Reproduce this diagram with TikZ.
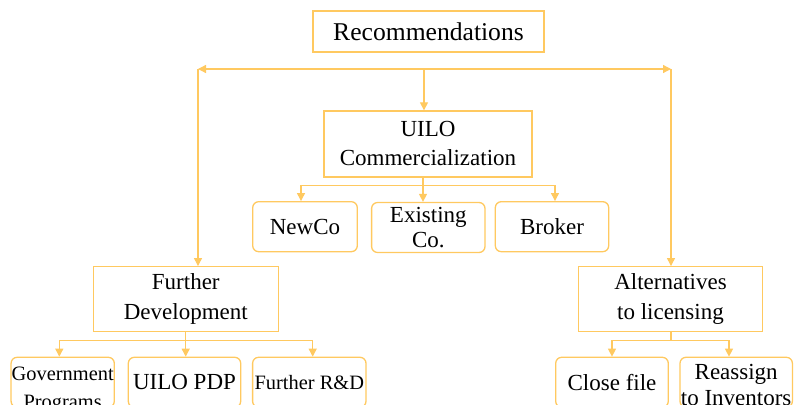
\documentclass[tikz,border=0pt]{standalone}
\usepackage{fontspec}
\setmainfont{Liberation Serif}
\usepackage{tikz}
\usetikzlibrary{arrows.meta,calc}
\definecolor{boxorange}{RGB}{255,201,96}
\tikzset{
         box/.style={draw=boxorange,line width=.65pt,align=center,inner sep=0pt,
                     font=\fontsize{11.5}{14.5}\selectfont},
         leaf/.style={box,rounded corners=3pt,minimum height=25pt},
         lbl/.style={align=center,inner sep=0pt},
         arr/.style={draw=boxorange,line width=.65pt,-{Triangle[length=4pt,width=4pt]}},
         lin/.style={draw=boxorange,line width=.65pt}
        }
\begin{document}
\begin{tikzpicture}[x=.5pt,y=-.5pt]
      \clip(0,0)rectangle(794,405); %frame of the picture
      \node[box,minimum width=115.5pt,minimum height=20.5pt,font=\fontsize{12.8}{15}\selectfont] (rec) at (428.5,31.5){Recommendations};
      \node[box,minimum width=104pt,minimum height=33pt] (uilo) at (428,144){UILO\\Commercialization};
      \node[leaf,minimum width=52.3pt] (newco) at (305,226.7){NewCo};
      \node[leaf,minimum width=56.7pt,font=\fontsize{11.5}{12.5}\selectfont] (exist) at (428.3,227.5){Existing\\Co.};
      \node[leaf,minimum width=56.7pt] (broker) at (552,226.7){Broker};
      \node[box,minimum width=92.5pt,minimum height=32.5pt,font=\fontsize{11.5}{15}\selectfont] (fdev) at (185.8,299.2){Further\\Development};
      \node[box,minimum width=92.2pt,minimum height=32.5pt,font=\fontsize{11.5}{15}\selectfont] (alt) at (670.5,299.2){Alternatives\\to licensing};
      %bottom row, texts run past the lower edge
      \node[leaf,minimum width=51.6pt,label={[lbl,yshift=-4pt,font=\fontsize{10.2}{14}\selectfont]center:Government\\Programs}] (gov) at (62.7,382.3){};
      \node[leaf,minimum width=56.2pt] (pdp) at (184.5,382.3){UILO PDP};
      \node[leaf,minimum width=56.7pt,font=\fontsize{10.2}{12.5}\selectfont] (frd) at (309.3,382.3){Further R\&D};
      \node[leaf,minimum width=56.3pt] (close) at (612,382.3){Close file};
      \node[leaf,minimum width=56.2pt,label={[lbl,yshift=-1.5pt,font=\fontsize{11.5}{13}\selectfont]center:Reassign\\to Inventors}] (reassign) at (736.2,382.3){};
      %top bus
      \coordinate (busc) at (424,69);
      \coordinate (busl) at (198,69);
      \coordinate (busr) at (671,69);
      \draw[arr](busc)--(busl);
      \draw[arr](busc)--(busr);
      \draw[arr](busc)--(busc |- uilo.north);
      \draw[arr](busl)--(busl |- fdev.north);
      \draw[arr](busr)--(busr |- alt.north);
      %UILO branches
      \coordinate (uj) at (423,185.7);
      \draw[lin](uj |- uilo.south)--(uj);
      \draw[arr](uj)-|([xshift=-2pt]newco.north);
      \draw[arr](uj)--(uj |- exist.north);
      \draw[arr](uj)-|([xshift=1.5pt]broker.north);
      %further development branches
      \coordinate (fj) at (185.7,340.3);
      \draw[lin](fj |- fdev.south)--(fj);
      \draw[arr](fj)-|([xshift=-1.7pt]gov.north);
      \draw[arr](fj)--(fj |- pdp.north);
      \draw[arr](fj)-|([xshift=1.7pt]frd.north);
      %alternatives branches
      \coordinate (aj) at (671,340.3);
      \draw[lin](aj |- alt.south)--(aj);
      \draw[arr](aj)-|(close.north);
      \draw[arr](aj)-|([xshift=-3.6pt]reassign.north);
\end{tikzpicture}
\end{document}
